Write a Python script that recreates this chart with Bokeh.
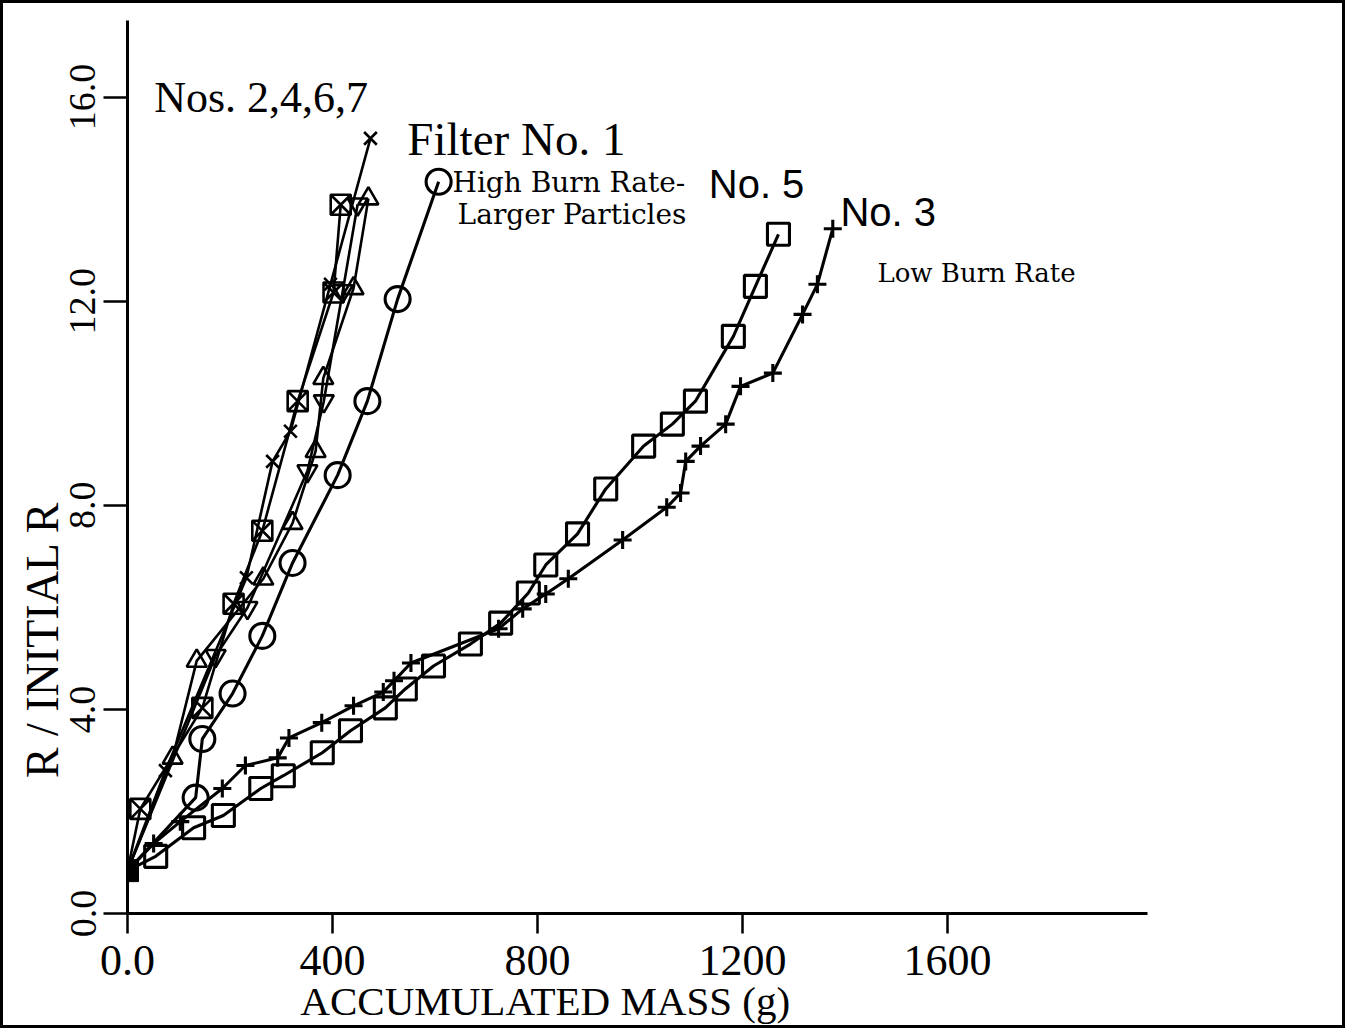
from bokeh.plotting import figure
from bokeh.models import FixedTicker, Label
from bokeh.embed import file_html
from bokeh.resources import INLINE

# ---------------- data ----------------
start_x = [0.0]
start_y = [0.84]

# Filter No. 1 (x markers)
f1_x = [0, 74, 232, 283, 318, 396, 474]
f1_y = [0.84, 2.8, 6.58, 8.86, 9.45, 12.33, 15.19]

# Nos. 2,4,6,7 group
n2_x = [0, 25, 146, 207, 263, 332, 402, 416]
n2_y = [0.84, 2.05, 4.03, 6.07, 7.5, 10.04, 12.17, 13.89]

n4_x = [0, 88, 135, 265, 322, 367, 382, 441, 470]
n4_y = [0.84, 3.05, 4.95, 6.56, 7.65, 9.06, 10.49, 12.25, 14.01]

n6_x = [0, 172, 234, 351, 383, 420, 449]
n6_y = [0.84, 5.05, 5.99, 8.67, 10.04, 12.2, 13.9]

# High burn rate - larger particles (circles)
hb_x = [0, 133, 146, 205, 263, 322, 410, 468, 527, 607]
hb_y = [0.84, 2.27, 3.42, 4.31, 5.44, 6.87, 8.59, 10.04, 12.04, 14.34]

# No. 5 (squares)
n5_x = [0, 55, 129, 187, 260, 304, 380, 435, 503, 542, 597, 669, 728,
        782, 816, 878, 933, 1007, 1063, 1108, 1182, 1225, 1270]
n5_y = [0.84, 1.12, 1.68, 1.92, 2.45, 2.70, 3.15, 3.58, 4.03, 4.40, 4.85,
        5.28, 5.69, 6.28, 6.83, 7.44, 8.32, 9.16, 9.59, 10.04, 11.31,
        12.29, 13.31]

# No. 3 (+ markers), low burn rate
n3_x = [0, 51, 103, 185, 230, 293, 315, 379, 441, 499, 520, 553, 724,
        771, 816, 860, 966, 1052, 1079, 1089, 1118, 1167, 1196, 1259,
        1317, 1346, 1376]
n3_y = [0.84, 1.37, 1.8, 2.45, 2.90, 3.05, 3.44, 3.74, 4.07, 4.34, 4.56,
        4.91, 5.58, 5.97, 6.26, 6.56, 7.32, 7.96, 8.24, 8.86, 9.16, 9.59,
        10.33, 10.59, 11.74, 12.33, 13.42]

x_ticks = [0, 400, 800, 1200, 1600]
x_tick_labels = ["0.0", "400", "800", "1200", "1600"]
y_ticks = [0, 4, 8, 12, 16]
y_tick_labels = ["0.0", "4.0", "8.0", "12.0", "16.0"]

# ---------------- figure ----------------
SERIF = "Liberation Serif"
p = figure(width=1345, height=1028, x_range=(0, 1990), y_range=(0, 17.5),
           output_backend="svg", toolbar_location=None,
           min_border_left=124, min_border_right=201,
           min_border_top=17, min_border_bottom=118)
p.styles = {"border": "3px solid black"}
p.outline_line_color = None
p.grid.visible = False
p.background_fill_color = "white"
p.border_fill_color = "white"

for ax in (p.xaxis[0], p.yaxis[0]):
    ax.axis_line_width = 3
    ax.axis_line_color = "black"
    ax.major_tick_line_width = 2.5
    ax.major_tick_line_color = "black"
    ax.major_tick_in = 0
    ax.minor_tick_line_color = None
    ax.major_label_text_font = SERIF
    ax.major_label_text_color = "black"
    ax.axis_label_text_font = SERIF
    ax.axis_label_text_font_style = "normal"
    ax.axis_label_text_color = "black"

p.xaxis.ticker = FixedTicker(ticks=x_ticks)
p.xaxis.major_label_overrides = dict(zip(x_ticks, x_tick_labels))
p.xaxis.major_tick_out = 20
p.xaxis.major_label_standoff = 12
p.xaxis.major_label_text_font_size = "44px"
p.xaxis.axis_label = "ACCUMULATED MASS (g)" + "\u00a0" * 18
p.xaxis.axis_label_text_font_size = "41px"
p.xaxis.axis_label_standoff = 0

p.yaxis.ticker = FixedTicker(ticks=y_ticks)
p.yaxis.major_label_overrides = dict(zip(y_ticks, y_tick_labels))
p.yaxis.major_tick_out = 24
p.yaxis.major_label_standoff = 8
p.yaxis.major_label_orientation = "vertical"
p.yaxis.major_label_text_font_size = "38px"
p.yaxis.axis_label = "R / INITIAL R" + "\u00a0" * 30
p.yaxis.axis_label_text_font_size = "46px"
p.yaxis.axis_label_standoff = 0

LW = 3.1

def series(xs, ys, marker, size, lw=LW):
    p.line(xs, ys, line_color="black", line_width=lw)
    p.scatter(xs[1:], ys[1:], marker=marker, size=size, fill_color=None,
              line_color="black", line_width=lw)

series(n5_x, n5_y, "square", 22)
series(n3_x, n3_y, "cross", 18)
series(hb_x, hb_y, "circle", 25)
series(n2_x, n2_y, "square_x", 20, lw=2.6)
series(n4_x, n4_y, "triangle", 20, lw=2.6)
series(n6_x, n6_y, "inverted_triangle", 20, lw=2.6)
series(f1_x, f1_y, "x", 18, lw=2.6)

p.scatter(start_x, start_y, marker="square", size=22,
          fill_color="black", line_color="black")

def label(x, y, text, size, font=SERIF, style="normal"):
    p.add_layout(Label(x=x, y=y, text=text, text_font=font,
                       text_font_size=size, text_color="black",
                       text_baseline="alphabetic", text_align="left",
                       text_font_style=style))

label(52, 16.0, "Nos. 2,4,6,7", "44px")
label(546, 15.18, "Filter No. 1", "47px")
label(634, 14.33, "High Burn Rate-", "28px", font="DejaVu Serif")
label(644, 13.70, "Larger Particles", "28px", font="DejaVu Serif")
label(1134, 14.3, "No. 5", "40px", font="Liberation Sans")
label(1391, 13.75, "No. 3", "40px", font="Liberation Sans")
label(1463, 12.56, "Low Burn Rate", "26px", font="DejaVu Serif")

open("out.html", "w").write(file_html(p, INLINE))
